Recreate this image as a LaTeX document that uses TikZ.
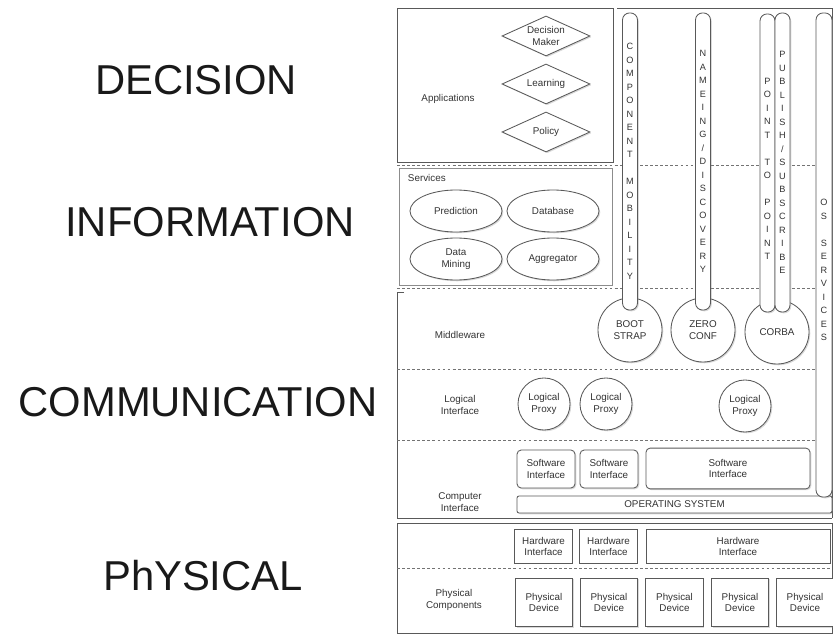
\documentclass[tikz,border=0pt]{standalone}
\usepackage{fontspec}
\setmainfont{Liberation Sans}
\setsansfont{Liberation Sans}
\usetikzlibrary{shapes.geometric,shadows}

\begin{document}
\begin{tikzpicture}[x=0.025cm,y=-0.025cm,font=\sffamily\fontsize{7}{8.2}\selectfont,text=black!80,
   line/.style={draw=black!65,line width=0.6pt},
   sep/.style={draw=black!55,line width=0.6pt,dash pattern=on 2pt off 1.6pt},
   shade/.style={drop shadow={shadow xshift=0.9pt,shadow yshift=-0.9pt,opacity=0.3}},
   layer/.style={font=\sffamily\fontsize{29.7}{32}\selectfont,text=black!90},
   dia/.style={line,shade,fill=white,diamond,aspect=2.2,inner sep=0pt,minimum width=2.2cm,minimum height=1cm,align=center},
   ell/.style={line,shade,fill=white,ellipse,inner sep=0pt,minimum width=2.3cm,minimum height=1.05cm,align=center},
   ware/.style={line,shade,fill=white,circle,inner sep=0pt,minimum size=1.6cm,align=center},
   proxy/.style={line,shade,fill=white,circle,inner sep=0pt,minimum size=1.3cm,align=center},
   soft/.style={line,shade,fill=white,rounded corners=3pt,inner sep=0pt,minimum height=0.95cm,align=center},
   hard/.style={line,shade,fill=white,inner sep=0pt,align=center},
   tube/.style={line,shade,fill=white,rounded corners=5pt,inner sep=0pt,minimum width=0.375cm,align=center,
                font=\sffamily\fontsize{6.5}{9.6}\selectfont},
   tubetext/.style={inner sep=0pt,align=center,font=\sffamily\fontsize{6.5}{9.6}\selectfont}]
   \useasboundingbox (0,0) rectangle (833,635);
% Layer names
   \node [layer] (decision) at (196,80)  {DECISION};
   \node [layer] (information) at (210,222) {INFORMATION};
   \node [layer] (communication) at (198,402) {COMMUNICATION};
   \node [layer] (physical) at (203,576) {PhYSICAL};
% Frames and separators (drawn here to be below other material)
   \draw [line] (397,8) rectangle (613,162);
   \draw [line] (617,8) -- (832,8) -- (832,518);
   \draw [sep] (397,165) -- (817,165);
   \draw [line,draw=black!45] (399,168) rectangle (612,285);
   \draw [sep] (397,288) -- (817,288);
   \draw [line] (404,292) -- (397,292) -- (397,518) -- (832,518);
   \draw [sep] (397,369) -- (817,369);
   \draw [sep] (397,440) -- (817,440);
   \draw [line] (397,523) rectangle (832,633);
   \draw [sep] (397,568) -- (832,568);
% Applications
   \node (apps) at (448,99) {Applications};
   \node [dia] (maker) at (546,36)  {Decision\\Maker};
   \node [dia] (learning) at (546,84)  {Learning};
   \node [dia] (policy) at (546,132) {Policy};
% Services
   \node [anchor=west] (services) at (403,178) {Services};
   \node [ell] (prediction) at (456,211) {Prediction};
   \node [ell] (database) at (553,211) {Database};
   \node [ell] (mining) at (456,259) {Data\\Mining};
   \node [ell] (aggregator) at (553,259) {Aggregator};
% Middleware
   \node (middleware) at (460,335) {Middleware};
   \node [ware] (boot) at (630,330) {BOOT\\STRAP};
   \node [ware] (zero) at (703,330) {ZERO\\CONF};
   \node [ware] (corba) at (777,332) {CORBA};
% Logical interface
   \node [align=center] (logical) at (460,405) {Logical\\Interface};
   \node [proxy] (proxyA) at (544,404) {Logical\\Proxy};
   \node [proxy] (proxyB) at (606,404) {Logical\\Proxy};
   \node [proxy] (proxyC) at (745,406) {Logical\\Proxy};
% Computer interface
   \node [align=center] (computer) at (460,502) {Computer\\Interface};
   \node [soft,minimum width=1.45cm] (softA) at (546,469) {Software\\Interface};
   \node [soft,minimum width=1.45cm] (softB) at (609,469) {Software\\Interface};
   \node [soft,minimum width=4.1cm,minimum height=1.02cm] (softC) at (728,468.5) {Software\\Interface};
   \node [hard,rounded corners=1.5pt,minimum width=7.875cm,minimum height=0.425cm] (os) at (674.5,504.5) {OPERATING SYSTEM};
% Vertical services
   \node [tube,minimum height=7.425cm] (mobility) at (630,161.5)
        {C\\O\\M\\P\\O\\N\\E\\N\\T\\~\\M\\O\\B\\I\\L\\I\\T\\Y};
   \node [tube,minimum height=7.425cm] (naming) at (703,161.5)
        {N\\A\\M\\E\\I\\N\\G\\/\\D\\I\\S\\C\\O\\V\\E\\R\\Y};
   \node [tube,minimum height=7.45cm] (point) at (767.5,163) {};
   \node [tubetext] (pointtext) at (767.5,169) {P\\O\\I\\N\\T\\~\\T\\O\\~\\P\\O\\I\\N\\T};
   \node [tube,minimum height=7.475cm] (publish) at (782.5,162.5)
        {P\\U\\B\\L\\I\\S\\H\\/\\S\\U\\B\\S\\C\\R\\I\\B\\E};
   \node [tube,minimum width=0.4cm,minimum height=12.1cm] (ossrv) at (824,255) {};
   \node [tubetext] (ossrvtext) at (824,270) {O\\S\\~\\S\\E\\R\\V\\I\\C\\E\\S};
% Physical
   \node [hard,minimum width=1.43cm,minimum height=0.83cm] (hardA) at (543.5,546.5) {Hardware\\Interface};
   \node [hard,minimum width=1.43cm,minimum height=0.83cm] (hardB) at (608.5,546.5) {Hardware\\Interface};
   \node [hard,minimum width=4.6cm,minimum height=0.83cm] (hardC) at (738,546.5) {Hardware\\Interface};
   \node [align=center] (components) at (454,600) {Physical\\Components};
   \foreach \x [count=\i] in {544,609,674.5,740,805}
      \node [hard,minimum width=1.43cm,minimum height=1.22cm] (device\i) at (\x,602.5) {Physical\\Device};
\end{tikzpicture}
\end{document}
